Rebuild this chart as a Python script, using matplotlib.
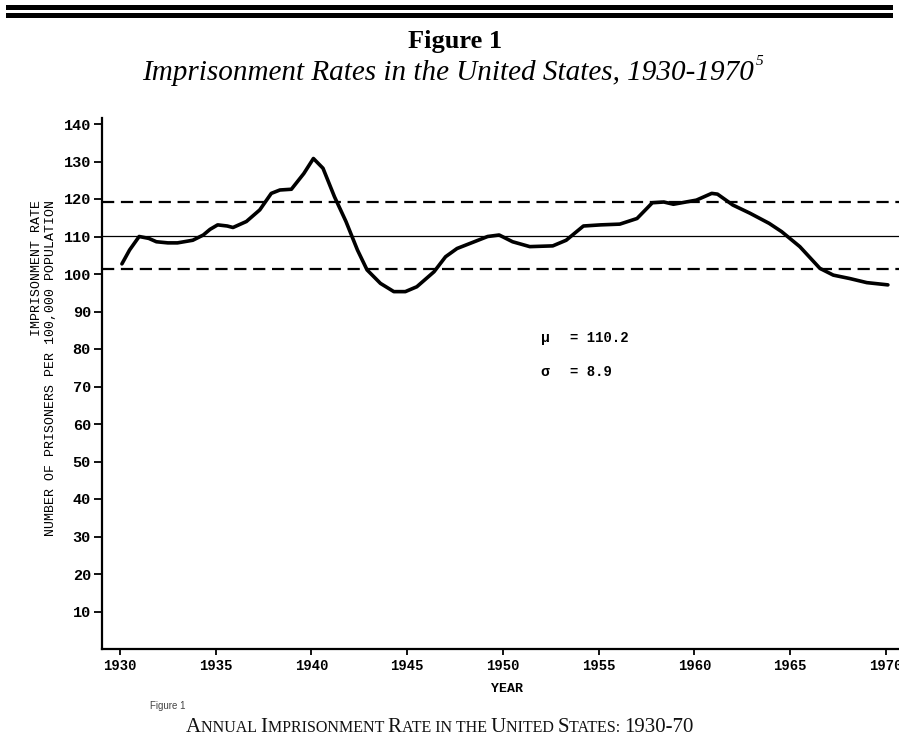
import matplotlib
matplotlib.use("Agg")
import matplotlib.pyplot as plt
from matplotlib.patches import Rectangle
from matplotlib.offsetbox import TextArea, HPacker, AnnotationBbox

# --- data ---
years = [1930.1, 1930.5, 1931.0, 1931.5, 1931.9, 1932.5, 1933.0, 1933.8, 1934.35,
         1934.7, 1935.1, 1935.6, 1935.9, 1936.6, 1937.3, 1937.9, 1938.35, 1938.95,
         1939.6, 1940.1, 1940.6, 1941.2, 1941.8, 1942.4, 1942.9, 1943.6, 1944.3,
         1944.9, 1945.5, 1946.4, 1947.0, 1947.6, 1948.3, 1949.2, 1949.8, 1950.5,
         1951.4, 1952.6, 1953.3, 1954.2, 1955.1, 1956.1, 1957.0, 1957.8, 1958.4,
         1958.9, 1960.1, 1960.9, 1961.2, 1962.0, 1962.9, 1963.9, 1964.55, 1965.5,
         1966.55, 1967.25, 1968.1, 1969.0, 1970.1]
rate = [102.7, 106.4, 110.0, 109.5, 108.6, 108.3, 108.3, 109.0, 110.4,
        111.9, 113.1, 112.8, 112.4, 114.0, 117.1, 121.5, 122.4, 122.6,
        126.8, 130.8, 128.2, 120.6, 114.0, 106.4, 101.1, 97.5, 95.3,
        95.3, 96.6, 100.6, 104.6, 106.8, 108.2, 110.0, 110.4, 108.6,
        107.3, 107.5, 109.0, 112.8, 113.1, 113.3, 114.8, 119.0, 119.2,
        118.6, 119.7, 121.5, 121.3, 118.4, 116.2, 113.5, 111.3, 107.3,
        101.5, 99.7, 98.8, 97.7, 97.1]
mu = 110.2
sigma = 8.9
x_ticks = [1930, 1935, 1940, 1945, 1950, 1955, 1960, 1965, 1970]
y_ticks = [10, 20, 30, 40, 50, 60, 70, 80, 90, 100, 110, 120, 130, 140]

W, H = 899, 740
mono = ['Liberation Mono', 'DejaVu Sans Mono']
serif = ['Liberation Serif', 'DejaVu Serif']

fig = plt.figure(figsize=(W / 100, H / 100), dpi=100)

# double rule at the top of the page
for top, h in [(5, 4.5), (13, 4.5)]:
    fig.add_artist(Rectangle((6 / W, 1 - (top + h) / H), 887 / W, h / H,
                             transform=fig.transFigure, color='black', lw=0))

fig.text(455 / W, 1 - 48 / H, 'Figure 1', ha='center', va='baseline',
         family=serif, weight='bold', fontsize=19)
sub = fig.text(448 / W, 1 - 80 / H, 'Imprisonment Rates in the United States, 1930-1970',
               ha='center', va='baseline', family=serif, style='italic', fontsize=21)

ax = fig.add_axes([102 / W, 91 / H, 797 / W, 531 / H])
ax.annotate('5', xy=(1, 0.95), xycoords=sub, xytext=(1, 0), textcoords='offset points',
            va='center', ha='left', family=serif, style='italic', fontsize=11)

ax.plot(years, rate, color='black', lw=2.6, solid_joinstyle='round', solid_capstyle='round')
ax.axhline(mu, color='black', lw=0.9)
ax.axhline(mu + sigma, color='black', lw=1.6, ls=(0, (5.5, 3)))
ax.axhline(mu - sigma, color='black', lw=1.6, ls=(0, (5.5, 3)))

ax.set_xlim(1929.06, 1970.68)
ax.set_ylim(0, 141.6)
for s in ['top', 'right']:
    ax.spines[s].set_visible(False)
for s in ['left', 'bottom']:
    ax.spines[s].set_linewidth(1.6)

ax.set_xticks(x_ticks)
ax.set_xticklabels([str(v) for v in x_ticks], family=mono, fontsize=10, weight='bold')
ax.set_yticks(y_ticks)
ax.set_yticklabels([str(v) for v in y_ticks], family=mono, fontsize=11, weight='bold')
ax.tick_params(axis='y', length=6, width=1.3, pad=2)
ax.tick_params(axis='x', length=4, width=1.3, pad=3)

ax.text(1952.2, 82.9, 'μ', family=mono, weight='bold', fontsize=10.5, va='center', ha='center')
ax.text(1953.5, 82.9, '= 110.2', family=mono, weight='bold', fontsize=10, va='center')
ax.text(1952.2, 73.9, 'σ', family=mono, weight='bold', fontsize=10.5, va='center', ha='center')
ax.text(1953.5, 73.9, '= 8.9', family=mono, weight='bold', fontsize=10, va='center')

fig.text(44 / W, 1 - 368 / H, 'IMPRISONMENT RATE\nNUMBER OF PRISONERS PER 100,000 POPULATION',
         rotation=90, ha='center', va='center', multialignment='right',
         family=mono, fontsize=9.5, linespacing=1.15)
fig.text(507 / W, 1 - 689 / H, 'YEAR', ha='center', va='center',
         family=mono, weight='bold', fontsize=9.5)
fig.text(150 / W, 1 - 706 / H, 'Figure 1', ha='left', va='center',
         family=['Liberation Sans', 'DejaVu Sans'], fontsize=7, color='#444444')

# small-caps caption built from pieces
big, small = 15, 11.5
pieces = [('A', big), ('NNUAL ', small), ('I', big), ('MPRISONMENT ', small),
          ('R', big), ('ATE IN THE ', small), ('U', big), ('NITED ', small),
          ('S', big), ('TATES: ', small), ('1930-70', big)]
areas = [TextArea(t, textprops=dict(family=serif, fontsize=sz, color='#111111'))
         for t, sz in pieces]
pack = HPacker(children=areas, align='baseline', pad=0, sep=0)
fig.add_artist(AnnotationBbox(pack, (440 / W, 1 - 728 / H), xycoords='figure fraction',
                              frameon=False, box_alignment=(0.5, 0.5)))

fig.savefig('out.png', dpi=100)
